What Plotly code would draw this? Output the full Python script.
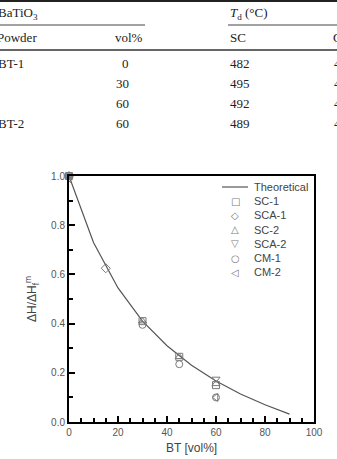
import plotly.graph_objects as go

# ---------------- data ----------------
bt_theory = [0, 10, 20, 30, 40, 50, 60, 70, 80, 90]
dh_theory = [1.0, 0.73, 0.545, 0.41, 0.31, 0.231, 0.167, 0.114, 0.07, 0.032]

sc1_x = [0, 30, 45, 60]
sc1_y = [1.0, 0.41, 0.265, 0.15]
sca1_x = [0, 15]
sca1_y = [1.0, 0.625]
sc2_x = [0, 30, 45, 60]
sc2_y = [1.0, 0.41, 0.265, 0.155]
sca2_x = [0, 60]
sca2_y = [1.0, 0.175]
cm1_x = [0, 30, 45, 60]
cm1_y = [1.0, 0.395, 0.235, 0.10]
cm2_x = [0, 60]
cm2_y = [0.99, 0.10]

series_names = ["SC-1", "SCA-1", "SC-2", "SCA-2", "CM-1", "CM-2"]
series_symbols = ["square-open", "diamond-open", "triangle-up-open",
                  "triangle-down-open", "circle-open", "triangle-left-open"]
legend_glyphs = ["\u25a1", "\u25c7", "\u25b3", "\u25bd", "\u25cb", "\u25c1"]

x_ticks = [0, 20, 40, 60, 80, 100]
y_ticks = [0.0, 0.2, 0.4, 0.6, 0.8, 1.0]

# table fragment (above the chart)
table_powder = ["BT-1", "", "", "BT-2"]
table_vol = ["0", "30", "60", "60"]
table_sc = ["482", "495", "492", "489"]
table_next = ["4", "4", "4", "4"]

# ---------------- layout geometry ----------------
W, H = 337, 459
L, R, T, B = 69, 314, 176, 422


def px(x):
    return (x - L) / (R - L)


def py(y):
    return (B - y) / (B - T)


fig = go.Figure()
fig.add_trace(go.Scatter(x=bt_theory, y=dh_theory, mode="lines",
                         line=dict(color="#555555", width=1.2),
                         name="Theoretical", showlegend=False))
xs = [sc1_x, sca1_x, sc2_x, sca2_x, cm1_x, cm2_x]
ys = [sc1_y, sca1_y, sc2_y, sca2_y, cm1_y, cm2_y]
for nm, sym, xx, yy in zip(series_names, series_symbols, xs, ys):
    fig.add_trace(go.Scatter(x=xx, y=yy, mode="markers", name=nm,
                             marker=dict(symbol=sym, size=7, color="#7a7a7a",
                                         line=dict(width=1, color="#7a7a7a")),
                             showlegend=False, cliponaxis=False))

sans = "Liberation Sans, Arial, sans-serif"
serif = "Liberation Serif, Times New Roman, serif"
axis_common = dict(showline=True, linecolor="black", linewidth=2, mirror=True,
                   ticks="inside", ticklen=6, tickwidth=1.5, tickcolor="black",
                   showgrid=False, zeroline=False,
                   tickfont=dict(family=sans, size=10, color="#555555"))
fig.update_xaxes(range=[0, 100], tickvals=x_ticks,
                 ticktext=[str(v) for v in x_ticks],
                 minor=dict(dtick=5, ticks="inside", ticklen=4, tickwidth=1.5,
                            tickcolor="black"),
                 **axis_common)
fig.update_yaxes(range=[0, 1.0], tickvals=y_ticks,
                 ticktext=["%.1f" % v for v in y_ticks],
                 minor=dict(dtick=0.1, ticks="inside", ticklen=4, tickwidth=1.5,
                            tickcolor="black"),
                 **axis_common)

ann = []
# axis titles
ann.append(dict(x=0.5, y=py(448), xref="paper", yref="paper", text="BT [vol%]",
                showarrow=False, font=dict(family=sans, size=12, color="#444444"),
                xanchor="center", yanchor="middle"))
ann.append(dict(x=px(32), y=0.5, xref="paper", yref="paper",
                text="\u0394H/\u0394H<sub>f</sub><sup>m</sup>", textangle=-90,
                showarrow=False, font=dict(family=sans, size=12, color="#444444"),
                xanchor="center", yanchor="middle"))

# legend drawn as text
leg_font = dict(family=sans, size=11, color="#444444")
labels = ["Theoretical"] + series_names
for i, lab in enumerate(labels):
    yy = 187 + i * 14.2
    ann.append(dict(x=px(252), y=py(yy), xref="paper", yref="paper", text=lab,
                    showarrow=False, font=leg_font, xanchor="left",
                    yanchor="middle"))
    if i > 0:
        ann.append(dict(x=px(235), y=py(yy), xref="paper", yref="paper",
                        text=legend_glyphs[i - 1], showarrow=False,
                        font=dict(family="DejaVu Sans", size=10, color="#7a7a7a"),
                        xanchor="center", yanchor="middle"))

shapes = [dict(type="line", xref="paper", yref="paper", x0=px(222), x1=px(248),
               y0=py(187), y1=py(187), line=dict(color="#555555", width=1.2))]

# table fragment
tfont = dict(family=serif, size=13, color="#222222")


def tann(x, y, text, anchor="left"):
    ann.append(dict(x=px(x), y=py(y), xref="paper", yref="paper", text=text,
                    showarrow=False, font=tfont, xanchor=anchor,
                    yanchor="middle"))


tann(-4, 13, "BaTiO<sub>3</sub>")
tann(228, 13, "<i>T</i><sub>d</sub> (\u00b0C)")
tann(-5, 37, "Powder")
tann(145, 37, "vol%", "right")
tann(228, 37, "SC")
tann(331, 37, "C")
row_y = [64, 84, 104, 123]
for i in range(4):
    if table_powder[i]:
        tann(-4, row_y[i], table_powder[i])
    tann(131, row_y[i], table_vol[i], "right")
    tann(228, row_y[i], table_sc[i])
    tann(332, row_y[i], table_next[i])

shapes += [
    dict(type="line", xref="paper", yref="paper", x0=px(0), x1=px(W),
         y0=py(1), y1=py(1), line=dict(color="#222222", width=2)),
    dict(type="line", xref="paper", yref="paper", x0=px(0), x1=px(145),
         y0=py(25), y1=py(25), line=dict(color="#444444", width=1)),
    dict(type="line", xref="paper", yref="paper", x0=px(228), x1=px(W),
         y0=py(25), y1=py(25), line=dict(color="#444444", width=1)),
    dict(type="line", xref="paper", yref="paper", x0=px(0), x1=px(W),
         y0=py(50), y1=py(50), line=dict(color="#333333", width=1.5)),
]

fig.update_layout(width=W, height=H, margin=dict(l=L, r=W - R, t=T, b=H - B),
                  paper_bgcolor="white", plot_bgcolor="white",
                  showlegend=False, annotations=ann, shapes=shapes)

fig.write_html("out.html")
